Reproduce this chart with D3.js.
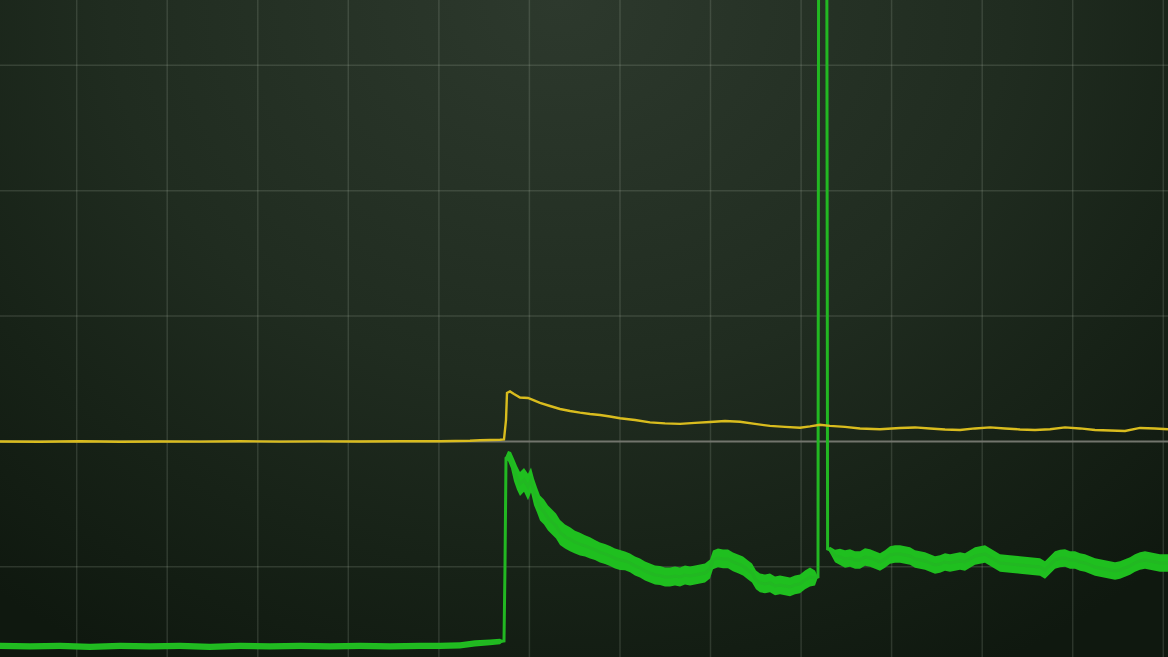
<!DOCTYPE html>
<html>
<head>
<meta charset="utf-8">
<script src="https://cdn.jsdelivr.net/npm/d3@7/dist/d3.min.js"></script>
<style>
html,body{margin:0;padding:0;background:#111a11;overflow:hidden;}
svg{display:block;}
</style>
</head>
<body>
<svg id="chart" width="1168" height="657"></svg>
<script>
// ---- DATA (x: sample index of the 1168-sample record, y: mV at 100 mV/div) ----
const xGridSamples = [76.7, 167.2, 257.8, 348.3, 438.9, 529.4, 620.0, 710.5, 801.1, 891.6, 982.2, 1072.7, 1163.3];
const yGridMv = [-100, 100, 200, 300];
const zeroMv = 0;

// channel 1 (yellow): [sample, mV]
const yellowTrace = [[0,0],[40,-0.2],[80,0.2],[120,-0.2],[160,0],[200,-0.1],[240,0.2],[280,-0.1],[320,0.1],[360,0],[400,0.2],[440,0.2],[470,0.6],[480,1.0],[500,1.4],[504,1.6],[506,17.1],[507,38.7],[510,39.9],[514,37.9],[520,35.1],[528,34.7],[534,32.7],[540,30.7],[550,28.3],[560,25.9],[570,24.3],[580,23.0],[590,21.9],[600,21.1],[610,19.9],[620,18.5],[635,17.1],[650,15.2],[665,14.4],[680,14.0],[695,14.8],[710,15.5],[725,16.3],[740,15.7],[755,14.0],[770,12.4],[785,11.6],[800,11.0],[810,12.0],[820,13.3],[830,12.4],[845,11.6],[860,10.4],[880,9.7],[900,10.8],[915,11.2],[930,10.4],[945,9.6],[960,9.2],[975,10.4],[990,11.2],[1005,10.4],[1020,9.6],[1035,9.2],[1050,9.7],[1065,11.2],[1080,10.4],[1095,9.2],[1110,8.8],[1125,8.4],[1140,10.8],[1155,10.4],[1168,9.7]];

// channel 2 (green): [sample, mV, noise half-band mV]
const greenTrace = [[0,-163.1,2.5],[30,-163.5,2.5],[60,-163.1,2.5],[90,-163.9,2.5],[120,-163.1,2.5],[150,-163.5,2.5],[180,-163.1,2.5],[210,-163.9,2.5],[240,-163.1,2.5],[270,-163.5,2.5],[300,-163.1,2.5],[330,-163.5,2.5],[360,-163.1,2.5],[390,-163.5,2.5],[420,-163.1,2.5],[440,-163.1,2.5],[460,-162.7,2.5],[475,-161.1,2.5],[490,-160.3,2.3],[500,-159.5,2.2],[504,-159.1,0],[505,-99.3,0],[506,-13.2,2],[508,-11.6,4],[511,-14.8,6.5],[514,-22.7,9],[517,-29.1,9.5],[520,-33.9,9.5],[524,-30.7,9.5],[528,-36.3,10.5],[531,-30.7,10],[534,-40.3,10.5],[537,-46.7,10],[540,-53.0,10],[544,-56.2,10],[548,-61.0,10],[552,-64.2,10],[556,-67.4,10],[560,-72.6,10],[565,-75.8,9.5],[570,-78.0,9.5],[575,-80.3,9],[580,-81.9,9],[585,-83.3,8.5],[590,-84.9,8.5],[595,-86.5,8],[600,-88.5,8],[605,-89.7,8],[610,-91.3,8],[615,-93.3,8],[620,-94.5,8],[625,-95.3,7.5],[630,-96.9,7.5],[635,-99.3,7.5],[640,-100.9,7.5],[645,-103.3,7.5],[650,-104.9,7.5],[655,-106.5,7.5],[660,-106.9,7.5],[665,-108.1,7.5],[670,-108.1,7.5],[675,-107.3,7.5],[680,-108.1,7.5],[685,-106.5,7.5],[690,-107.3,7.5],[695,-106.5,7.5],[700,-105.7,7.5],[705,-104.9,7.5],[710,-101.7,7.5],[713,-94.5,7.5],[718,-92.9,7.5],[723,-93.7,7.5],[728,-93.7,7.5],[733,-96.1,7.5],[738,-97.7,7.5],[743,-99.3,7.5],[748,-102.5,7.5],[752,-104.9,7.5],[756,-110.4,7.5],[760,-112.8,7.5],[765,-113.6,7.5],[770,-112.8,7.5],[775,-115.2,7.5],[780,-114.4,7.5],[785,-115.2,7.5],[790,-116.0,7.5],[795,-114.4,7.5],[800,-113.6,7.5],[805,-110.4,7.5],[810,-108.1,7.5],[815,-108.9,6],[818,-108.1,0],[818.6,400,0],[826.8,400,0],[827.6,-85.7,0],[830,-86.5,2.5],[835,-91.3,5],[840,-92.1,6.5],[845,-93.7,7],[850,-92.9,7],[855,-94.5,7],[860,-94.5,7],[865,-92.1,7],[870,-92.9,7],[875,-94.5,7],[880,-96.1,7],[885,-93.7,7],[890,-90.5,7],[895,-89.7,7],[900,-89.7,7],[905,-90.5,7],[910,-91.3,7],[915,-93.7,7],[920,-94.5,7],[925,-95.3,7],[930,-96.9,7],[935,-98.5,7],[940,-97.7,7],[945,-96.1,7],[950,-96.9,7],[955,-96.1,7],[960,-95.3,7],[965,-96.1,7],[970,-93.7,7],[975,-91.3,7],[980,-90.5,7],[985,-89.7,7],[990,-92.1,7],[995,-94.5,7],[1000,-96.9,7],[1010,-97.7,7],[1020,-98.5,7],[1030,-99.3,7],[1040,-100.1,7],[1045,-102.5,7],[1050,-98.5,7],[1055,-94.5,7],[1060,-93.3,7],[1065,-92.9,7],[1070,-94.5,7],[1075,-94.5,7],[1080,-96.1,7],[1085,-96.9,7],[1090,-98.5,7],[1095,-100.1,7],[1100,-100.9,7],[1105,-101.7,7],[1110,-102.5,7],[1115,-103.3,7],[1120,-102.5,7],[1125,-100.9,7],[1130,-99.3,7],[1135,-96.9,7],[1140,-95.3,7],[1145,-94.5,7],[1150,-95.3,7],[1155,-96.1,7],[1160,-96.9,7],[1168,-96.9,7]];

// ---- RENDER ----
const W = 1168, H = 657;
const svg = d3.select("#chart");
const x = d3.scaleLinear().domain([0, 1168]).range([0, W]);
const y = d3.scaleLinear().domain([-171.9, 352.1]).range([H, 0]);

const defs = svg.append("defs");
const rg = defs.append("radialGradient").attr("id","bg")
  .attr("gradientUnits","userSpaceOnUse").attr("cx",0).attr("cy",0).attr("r",1)
  .attr("gradientTransform","translate(560,0) scale(900,760)");
rg.append("stop").attr("offset","0").attr("stop-color","#2d392d");
rg.append("stop").attr("offset","0.5").attr("stop-color","#202c20");
rg.append("stop").attr("offset","0.75").attr("stop-color","#172217");
rg.append("stop").attr("offset","1").attr("stop-color","#0f180f");
defs.append("clipPath").attr("id","clip").append("rect").attr("width",W).attr("height",H);

svg.append("rect").attr("width",W).attr("height",H).attr("fill","url(#bg)");

const gridColor = "rgba(190,200,185,0.17)";
const grid = svg.append("g");
grid.selectAll("line.v").data(xGridSamples).join("line").attr("class","v")
  .attr("x1",d=>x(d)).attr("x2",d=>x(d)).attr("y1",0).attr("y2",H)
  .attr("stroke",gridColor).attr("stroke-width",1.5);
grid.selectAll("line.h").data(yGridMv).join("line").attr("class","h")
  .attr("x1",0).attr("x2",W).attr("y1",d=>y(d)).attr("y2",d=>y(d))
  .attr("stroke",gridColor).attr("stroke-width",1.5);
grid.append("line").attr("x1",0).attr("x2",W).attr("y1",y(zeroMv)).attr("y2",y(zeroMv))
  .attr("stroke","#72756d").attr("stroke-width",2);

const plot = svg.append("g").attr("clip-path","url(#clip)");

const green = greenTrace.map(d=>({s:d[0], v:d[1], n:d[2]}));
const yellow = yellowTrace.map(d=>({s:d[0], v:d[1]}));

const gArea = d3.area().x(d=>x(d.s)).y0(d=>y(d.v - d.n)).y1(d=>y(d.v + d.n));
plot.append("path").datum(green).attr("d",gArea).attr("fill","#1fbf1f");
const line = d3.line().x(d=>x(d.s)).y(d=>y(d.v));
plot.append("path").datum(green).attr("d",line).attr("fill","none")
  .attr("stroke","#22b822").attr("stroke-width",3).attr("stroke-linejoin","miter");

plot.append("path").datum(yellow).attr("d",line).attr("fill","none")
  .attr("stroke","#d9bc1e").attr("stroke-width",2.4);
</script>
</body>
</html>
